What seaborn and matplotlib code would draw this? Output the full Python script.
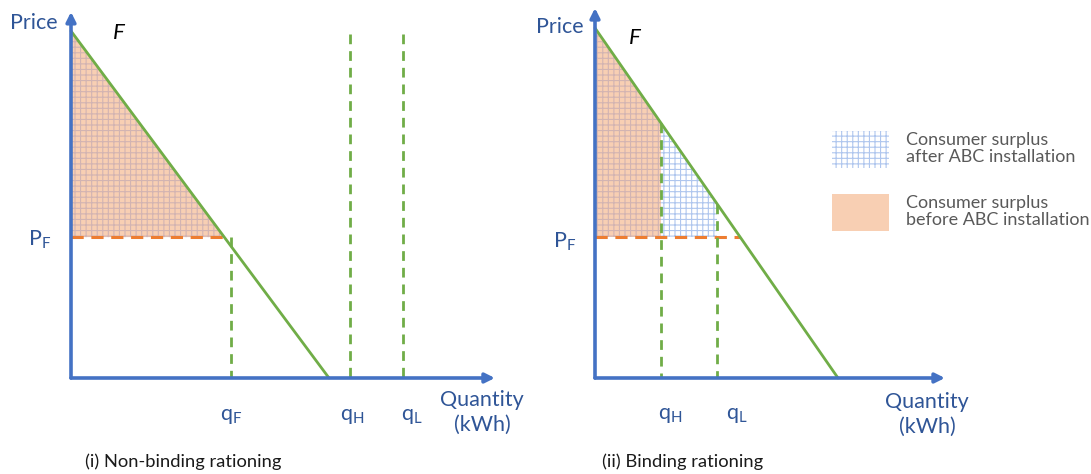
import numpy as np
import matplotlib
matplotlib.use("Agg")
import matplotlib.pyplot as plt
from matplotlib.patches import Patch
import seaborn as sns

# ---- values (price and quantity in arbitrary units) ----
# (i) non-binding rationing
left_demand_q = [0.0, 10.0]
left_demand_p = [10.0, 0.0]
left_price_f = 4.06
left_q_f = 6.2
left_q_h = 10.8
left_q_l = 12.85
left_cap_top = 9.9          # top of the q_H / q_L dashed lines

# (ii) binding rationing
right_demand_q = [0.0, 10.0]
right_demand_p = [10.0, 0.0]
right_price_f = 4.03
right_q_h = 2.72
right_q_l = 5.02

captions = ["(i) Non-binding rationing", "(ii) Binding rationing"]
legend_labels = ["Consumer surplus\nafter ABC installation",
                 "Consumer surplus\nbefore ABC installation"]

# ---- colours ----
AXIS_BLUE = "#4472C4"
TEXT_BLUE = "#2F5597"
GREEN = "#70AD47"
ORANGE = "#ED7D31"
ORANGE_FILL = "#F8CFB3"
ORANGE_HATCH = "#D2B4B2"
BLUE_HATCH = "#AFC6EE"
GREY_TEXT = "#595959"

sns.set_style("white")
plt.rcParams["font.family"] = ["Lato", "DejaVu Sans"]
plt.rcParams["mathtext.fontset"] = "custom"
plt.rcParams["mathtext.rm"] = "Lato"
plt.rcParams["hatch.linewidth"] = 0.8

fig = plt.figure(figsize=(10.91, 4.74), dpi=100)

W, H = 1091, 474


def make_axes(px_left, px_right, origin_x, origin_y, x_unit, y_unit):
    """Axes covering a pixel strip of the figure, origin placed at a pixel spot."""
    ax = fig.add_axes([px_left / W, 0, (px_right - px_left) / W, 1])
    ax.set_xlim((px_left - origin_x) / x_unit, (px_right - origin_x) / x_unit)
    ax.set_ylim((origin_y - H) / y_unit, origin_y / y_unit)
    ax.axis("off")
    return ax


def draw_axes_arrows(ax, x_tip, y_tip):
    arrow = dict(arrowstyle="-|>", color=AXIS_BLUE, lw=2.6, mutation_scale=14,
                 shrinkA=0, shrinkB=0)
    ax.annotate("", xy=(x_tip, 0), xytext=(0, 0), arrowprops=arrow)
    ax.annotate("", xy=(0, y_tip), xytext=(0, 0), arrowprops=arrow)


def label(ax, text, xy, dx, dy, **kw):
    style = dict(color=TEXT_BLUE, fontsize=15.5, ha="center", va="center")
    style.update(kw)
    ax.annotate(text, xy=xy, xytext=(dx, dy), textcoords="offset pixels", **style)


def demand_at(q, dq, dp):
    return np.interp(q, dq, dp)


# ================= (i) Non-binding rationing =================
axL = make_axes(0, 545, 71, 378, 25.8, 34.7)
draw_axes_arrows(axL, 16.43, 10.55)

q_cut = np.interp(left_price_f, left_demand_p[::-1], left_demand_q[::-1])
qs = np.linspace(0, q_cut, 50)
axL.fill_between(qs, left_price_f, demand_at(qs, left_demand_q, left_demand_p),
                 facecolor=ORANGE_FILL, edgecolor=ORANGE_HATCH, hatch="+++", lw=0)
axL.plot([0, q_cut], [left_price_f, left_price_f], color=ORANGE, lw=2.2,
         dashes=(4, 2.5))
sns.lineplot(x=left_demand_q, y=left_demand_p, ax=axL, color=GREEN, lw=2)

dash = dict(color=GREEN, lw=2, dashes=(3.5, 2.5))
axL.plot([left_q_f, left_q_f], [left_price_f, 0], **dash)
axL.plot([left_q_h, left_q_h], [left_cap_top, 0], **dash)
axL.plot([left_q_l, left_q_l], [left_cap_top, 0], **dash)

label(axL, "Price", (0, 10.55), -37, -11)
label(axL, "F", (0, 10.0), 48, -2, color="black", style="italic", fontsize=16)
label(axL, r"$\mathregular{P_F}$", (0, left_price_f), -31, -3)
label(axL, r"$\mathregular{q_F}$", (left_q_f, 0), 0, -38)
label(axL, r"$\mathregular{q_H}$", (left_q_h, 0), 3, -38)
label(axL, r"$\mathregular{q_L}$", (left_q_l, 0), 9, -38)
label(axL, "Quantity\n(kWh)", (16.43, 0), -13, -34, linespacing=1.3)
label(axL, captions[0], (0, 0), 112, -84, color="#1A1A1A", fontsize=13.2)

# ================= (ii) Binding rationing =================
axR = make_axes(545, 1091, 595, 378, 24.3, 35.0)
draw_axes_arrows(axR, 14.4, 10.57)

qs_h = np.linspace(0, right_q_h, 50)
qs_l = np.linspace(right_q_h, right_q_l, 50)
axR.fill_between(qs_h, right_price_f, demand_at(qs_h, right_demand_q, right_demand_p),
                 facecolor=ORANGE_FILL, edgecolor=ORANGE_HATCH, hatch="+++", lw=0)
axR.fill_between(qs_l, right_price_f, demand_at(qs_l, right_demand_q, right_demand_p),
                 facecolor="white", edgecolor=BLUE_HATCH, hatch="+++", lw=0)

q_cut_r = np.interp(right_price_f, right_demand_p[::-1], right_demand_q[::-1])
axR.plot([0, q_cut_r], [right_price_f, right_price_f], color=ORANGE, lw=2.2,
         dashes=(4, 2.5))
sns.lineplot(x=right_demand_q, y=right_demand_p, ax=axR, color=GREEN, lw=2)
for q in (right_q_h, right_q_l):
    axR.plot([q, q], [demand_at(q, right_demand_q, right_demand_p), 0], **dash)

label(axR, "Price", (0, 10.57), -35, -19)
label(axR, "F", (0, 10.0), 40, -10, color="black", style="italic", fontsize=16)
label(axR, r"$\mathregular{P_F}$", (0, right_price_f), -30, -5)
label(axR, r"$\mathregular{q_H}$", (right_q_h, 0), 9, -37)
label(axR, r"$\mathregular{q_L}$", (right_q_l, 0), 20, -37)
label(axR, "Quantity\n(kWh)", (14.4, 0), -18, -36, linespacing=1.3)
label(axR, captions[1], (0, 0), 88, -84, color="#1A1A1A", fontsize=13.2)

handles = [
    Patch(facecolor="white", edgecolor=BLUE_HATCH, hatch="+++", lw=0),
    Patch(facecolor=ORANGE_FILL, edgecolor="none", lw=0),
]
leg = fig.legend(handles, legend_labels, loc="upper left",
                 bbox_to_anchor=(832 / W, 1 - 131 / H), frameon=False,
                 prop={"family": "Lato", "size": 13},
                 handlelength=3.16, handleheight=2.77, handletextpad=0.94,
                 labelspacing=1.45, borderpad=0, borderaxespad=0)
for t in leg.get_texts():
    t.set_color(GREY_TEXT)
    t.set_linespacing(1.1)

fig.savefig("out.png", dpi=100)
